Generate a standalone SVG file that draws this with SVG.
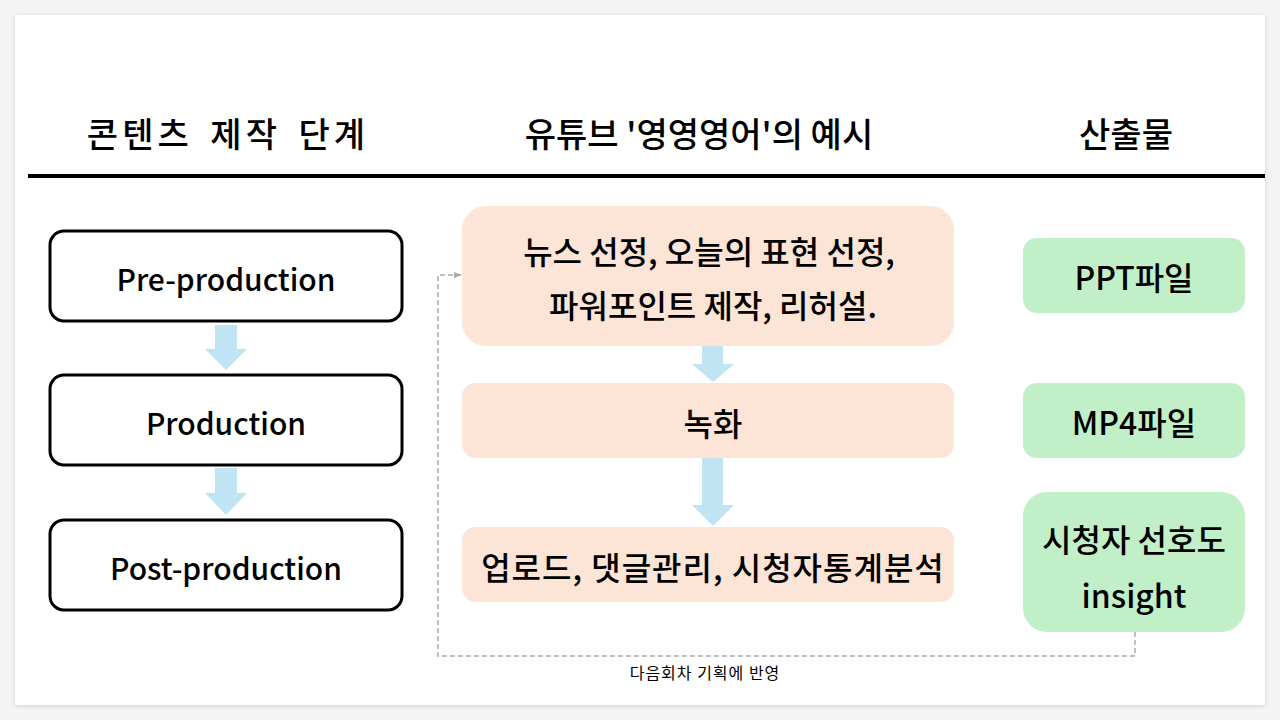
<svg xmlns="http://www.w3.org/2000/svg" width="1280" height="720" viewBox="0 0 1280 720">
<defs>
<style>
text{font-family:"Noto Sans CJK KR","Noto Sans",sans-serif;fill:#000;text-anchor:middle;dominant-baseline:central}
.hd{font-size:34px;font-weight:500}
.stage{fill:#fff;stroke:#000;stroke-width:3}
.ex{fill:#fce4d6}
.out{fill:#c1f0c8}
.en{font-size:30px;font-weight:500}
.ko{font-size:32px;font-weight:500}
.ro{font-size:32px;font-weight:500}
.arr{fill:#c1e4f5}
</style>
<filter id="sh" x="-5%" y="-5%" width="110%" height="110%">
<feDropShadow dx="0" dy="1" stdDeviation="2" flood-color="#000" flood-opacity="0.15"/>
</filter>
<marker id="ah" viewBox="0 0 10 10" refX="9" refY="5" markerWidth="8" markerHeight="8" orient="auto" markerUnits="userSpaceOnUse">
<path d="M0,1 L10,5 L0,9 z" fill="#aaaaaa"/>
</marker>
</defs>
<rect x="0" y="0" width="1280" height="720" fill="#f4f4f4"/>
<rect x="15" y="15" width="1250" height="690" fill="#fff" filter="url(#sh)"/>

<g id="headers">
<text class="hd" x="228" y="132" letter-spacing="4" word-spacing="6">콘텐츠 제작 단계</text>
<text class="hd" x="699" y="132">유튜브 '영영영어'의 예시</text>
<text class="hd" x="1126" y="132">산출물</text>
</g>
<line x1="28" y1="176" x2="1265" y2="176" stroke="#000" stroke-width="4"/>

<g id="connectors">
<path class="arr" d="M215,325 H237 V349 H247 L226,370 L205,349 H215 Z"/>
<path class="arr" d="M215,468 H237 V493 H247 L226,515 L205,493 H215 Z"/>
<path class="arr" d="M702,346 H723 V364 H734 L713,382 L692,364 H702 Z"/>
<path class="arr" d="M702,458 H723 V505 H734 L713,526 L692,505 H702 Z"/>
<path d="M1135,632 V656 H438 V275 H461" fill="none" stroke="#aaaaaa" stroke-width="1.5" stroke-dasharray="5 3" marker-end="url(#ah)"/>
<text x="705" y="672" style="font-size:16px" letter-spacing="1">다음회차 기획에 반영</text>
</g>

<g id="pre">
<rect class="stage" x="50" y="231" width="352" height="90" rx="14"/>
<text class="en" x="226" y="278">Pre-production</text>
</g>
<g id="prod">
<rect class="stage" x="50" y="375" width="352" height="90" rx="14"/>
<text class="en" x="226" y="422">Production</text>
</g>
<g id="post">
<rect class="stage" x="50" y="520" width="352" height="90" rx="14"/>
<text class="en" x="226" y="567">Post-production</text>
</g>

<g id="ex1">
<rect class="ex" x="462" y="206" width="492" height="140" rx="24"/>
<text class="ko" x="709" y="250">뉴스 선정, 오늘의 표현 선정,</text>
<text class="ko" x="713" y="304">파워포인트 제작, 리허설.</text>
</g>
<g id="ex2">
<rect class="ex" x="462" y="383" width="492" height="75" rx="14"/>
<text class="ko" x="713" y="422">녹화</text>
</g>
<g id="ex3">
<rect class="ex" x="462" y="527" width="492" height="75" rx="14"/>
<text class="ko" x="713" y="566" letter-spacing="1">업로드, 댓글관리, 시청자통계분석</text>
</g>

<g id="out1">
<rect class="out" x="1023" y="238" width="222" height="75" rx="14"/>
<text class="ro" x="1134" y="276">PPT파일</text>
</g>
<g id="out2">
<rect class="out" x="1023" y="383" width="222" height="75" rx="14"/>
<text class="ro" x="1134" y="421">MP4파일</text>
</g>
<g id="out3">
<rect class="out" x="1023" y="492" width="222" height="140" rx="24"/>
<text class="ro" x="1134" y="538">시청자 선호도</text>
<text class="ro" x="1134" y="594">insight</text>
</g>
</svg>
